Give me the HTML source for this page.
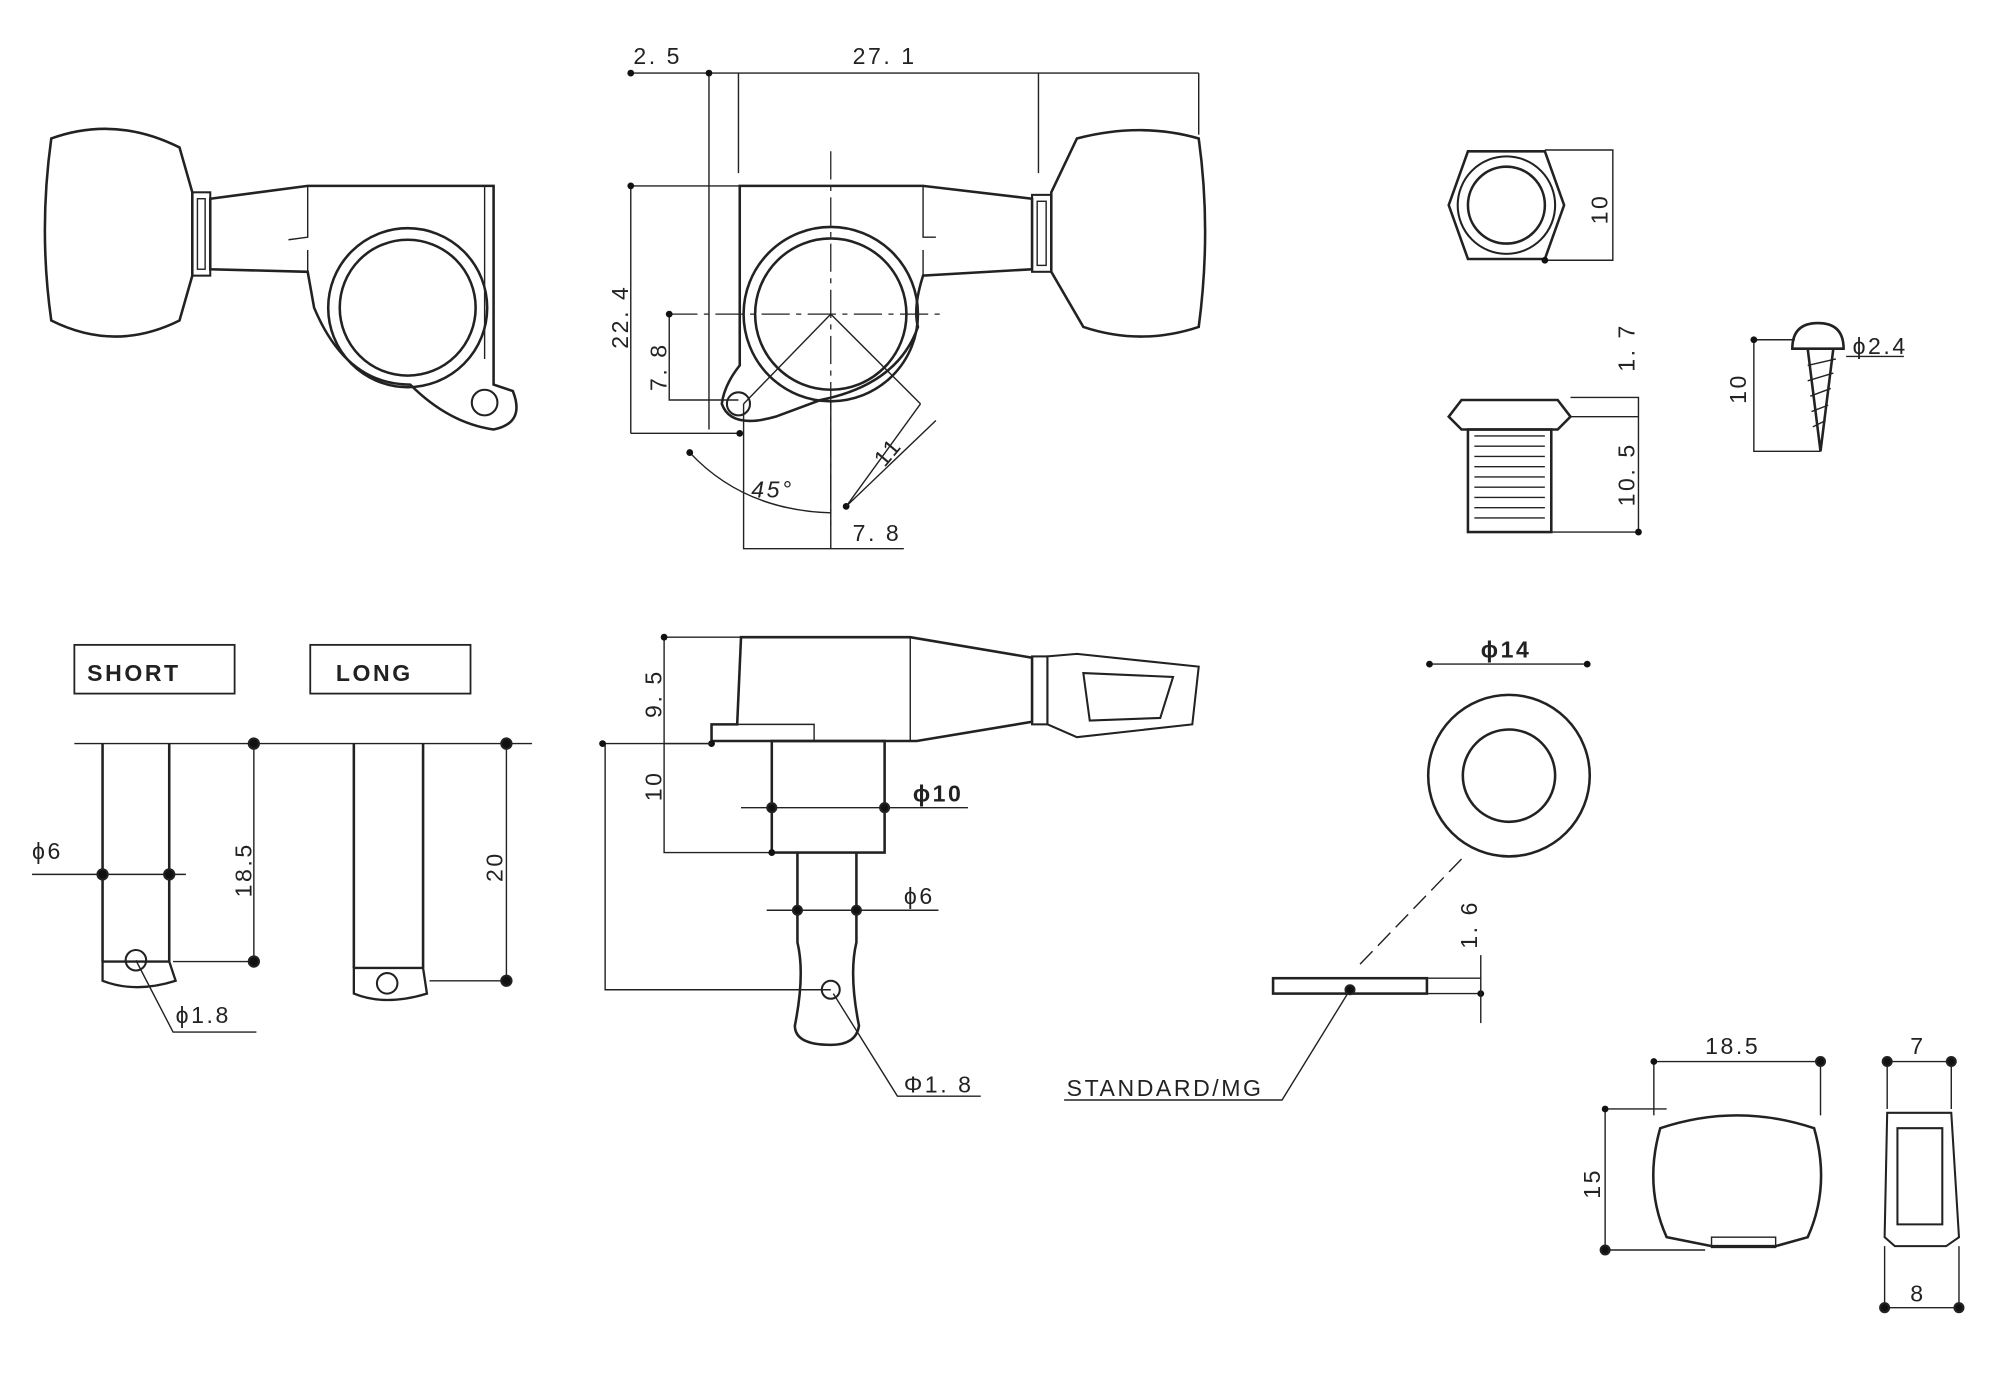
<!DOCTYPE html>
<html><head><meta charset="utf-8"><style>html,body{margin:0;padding:0;background:#fff}svg{display:block}</style></head><body>
<svg width="2000" height="1400" viewBox="0 0 1560 1092" xmlns="http://www.w3.org/2000/svg" font-family="Liberation Sans, sans-serif" fill="none" stroke="#222" stroke-width="1.6">
<defs><marker id="d" viewBox="0 0 10 10" refX="5" refY="5" markerWidth="6" markerHeight="6"><circle cx="5" cy="5" r="4" fill="#111" stroke="none"/></marker></defs>
<style>text{fill:#222;stroke:none;font-size:18px;letter-spacing:2px}.t{stroke-width:1.1}.c{stroke-dasharray:22 5 4 5;stroke-width:1}</style>
<!-- top-left tuner -->
<path d="M40 108 Q30 180 40 250 Q90 275 140 250 L150 215 L150 150 L140 115 Q90 90 40 108Z" stroke-width="2"/>
<rect x="150" y="150" width="14" height="65"/><rect x="154" y="155" width="6" height="55" class="t"/>
<path d="M164 155 L240 145 L385 145 L385 300 L400 305 Q410 330 385 335 Q350 330 320 300 Q270 300 245 240 L240 212 L164 210 Z" stroke-width="2"/>
<circle cx="318" cy="240" r="62" stroke-width="2"/><circle cx="318" cy="240" r="53" stroke-width="2"/>
<circle cx="378" cy="314" r="10"/>
<path d="M240 145 V185 L225 187 M240 212 V195" class="t"/><path d="M378 145 V280" class="t"/>
<!-- top-middle tuner -->
<path d="M577 145 L720 145 L805 155 L805 210 L720 215 Q712 240 716 255 Q700 300 640 312 L605 325 Q570 335 563 315 Q565 300 577 285 Z" stroke-width="2"/>
<circle cx="648" cy="245" r="68" stroke-width="2"/><circle cx="648" cy="245" r="59" stroke-width="2"/>
<circle cx="576" cy="315" r="9"/><path d="M720 145 V185 L730 185 M720 215 V195" class="t"/>
<rect x="805" y="152" width="15" height="60"/><rect x="809" y="157" width="7" height="50" class="t"/>
<path d="M820 150 L840 108 Q890 95 935 108 Q945 180 935 255 Q890 270 845 255 L820 212 Z" stroke-width="2"/>
<path d="M648 118 V410 M522 245 H738" class="c"/>
<path d="M648 245 L580 315 M648 245 L718 315" class="t"/>
<path d="M492 57 H935" class="t" marker-start="url(#d)"/><path d="M553 57 V335 M576 57 V135 M810 57 V135 M935 57 V105" class="t" marker-start="url(#d)"/>
<text x="494" y="50">2. 5</text><text x="665" y="50">27. 1</text>
<path d="M492 145 V338 M492 145 H577 M492 338 H577" class="t" marker-start="url(#d)" marker-end="url(#d)"/>
<text transform="translate(490 272) rotate(-90)">22. 4</text>
<path d="M522 245 V312 H576" class="t" marker-start="url(#d)"/><text transform="translate(520 305) rotate(-90)">7. 8</text>
<path d="M580 315 V428 H705 M648 312 V428 M730 328 L660 395" class="t" marker-end="url(#d)"/><text x="665" y="422">7. 8</text>
<path d="M660 395 L718 315" class="t"/><text transform="translate(690 365) rotate(-50)">11</text>
<path d="M538 353 Q580 398 648 400" class="t" marker-start="url(#d)"/><text x="586" y="388" font-style="italic" font-size="16">45°</text>
<!-- hex nut -->
<path d="M1145 118 H1205 L1220 160 L1205 202 H1145 L1130 160 Z" stroke-width="2"/>
<circle cx="1175" cy="160" r="38"/><circle cx="1175" cy="160" r="30" stroke-width="2"/>
<path d="M1205 117 H1258 V203 H1205" class="t" marker-end="url(#d)"/><text transform="translate(1254 175) rotate(-90)">10</text>
<!-- bushing -->
<path d="M1130 325 L1140 312 H1215 L1225 325 L1215 335 H1140 Z" stroke-width="2"/>
<rect x="1145" y="335" width="65" height="80" stroke-width="2"/>
<path d="M1150 340 H1205 M1150 348 H1205 M1150 356 H1205 M1150 364 H1205 M1150 372 H1205 M1150 380 H1205 M1150 388 H1205 M1150 396 H1205 M1150 404 H1205" class="t"/>
<path d="M1225 310 H1278 V415 M1225 325 H1278 M1210 415 H1278" class="t" marker-end="url(#d)"/>
<text transform="translate(1275 290) rotate(-90)">1. 7</text><text transform="translate(1275 395) rotate(-90)">10. 5</text>
<!-- screw -->
<path d="M1398 272 Q1398 252 1418 252 Q1438 252 1438 272 Z M1410 272 L1430 272 L1420 352 Z" stroke-width="2"/>
<path d="M1410 285 L1432 280 M1410 297 L1430 291 M1412 309 L1428 303 M1413 321 L1426 316 M1414 333 L1424 328" class="t"/>
<path d="M1368 265 V352 H1420 M1368 265 H1400 M1440 278 H1485" class="t" marker-start="url(#d)"/>
<text transform="translate(1362 315) rotate(-90)">10</text><text x="1445" y="276">ϕ2.4</text>
<!-- SHORT / LONG -->
<rect x="58" y="503" width="125" height="38" stroke-width="1.4"/><text x="68" y="531" font-size="22" font-weight="bold">SHORT</text>
<rect x="242" y="503" width="125" height="38" stroke-width="1.4"/><text x="262" y="531" font-size="22" font-weight="bold">LONG</text>
<path d="M58 580 H415" class="t"/>
<path d="M80 580 V750 M132 580 V750 M276 580 V755 M330 580 V755" stroke-width="2"/>
<path d="M80 750 H132 L137 765 Q106 775 80 765 Z M276 755 H330 L333 775 Q300 785 276 775 Z" stroke-width="1.8"/>
<circle cx="106" cy="749" r="8"/><circle cx="302" cy="767" r="8"/>
<path d="M135 750 H198 V580" class="t"/><path d="M335 765 H395 V580" class="t"/>
<circle cx="198" cy="580" r="4" fill="#111"/><circle cx="198" cy="750" r="4" fill="#111"/><circle cx="395" cy="580" r="4" fill="#111"/><circle cx="395" cy="765" r="4" fill="#111"/>
<text transform="translate(196 700) rotate(-90)" font-size="30" letter-spacing="0">18.5</text>
<text transform="translate(392 688) rotate(-90)" font-size="30" letter-spacing="0">20</text>
<path d="M25 682 H145" class="t"/><circle cx="80" cy="682" r="4" fill="#111"/><circle cx="132" cy="682" r="4" fill="#111"/><text x="25" y="670" font-size="28" letter-spacing="0">ϕ6</text>
<path d="M106 749 L135 805 H200" class="t"/><text x="137" y="798" font-size="28" letter-spacing="0">ϕ1.8</text>
<!-- middle bottom tuner side -->
<path d="M578 497 H710 L805 513 V563 L715 578 H555 V565 H575 Z" stroke-width="2"/>
<path d="M575 565 H635 V578" class="t"/><path d="M710 497 V578" class="t"/>
<rect x="805" y="512" width="12" height="53"/><path d="M817 512 L840 510 L935 520 L930 565 L840 575 L817 565 Z M845 525 L915 528 L905 560 L850 562 Z" stroke-width="1.6"/>
<rect x="602" y="578" width="88" height="87" stroke-width="2"/>
<path d="M622 665 V735 Q628 760 620 800 Q620 815 648 815 Q668 815 670 800 Q662 760 668 735 V665" stroke-width="2"/>
<circle cx="648" cy="772" r="7"/>
<path d="M518 497 H578 M518 497 V580 H555" class="t" marker-start="url(#d)" marker-end="url(#d)"/>
<text transform="translate(516 560) rotate(-90)">9. 5</text>
<path d="M518 580 V665 H602" class="t" marker-end="url(#d)"/><text transform="translate(516 625) rotate(-90)">10</text>
<path d="M470 580 H555 M472 580 V772 H648" class="t" marker-start="url(#d)"/>
<path d="M578 630 H755" class="t"/><circle cx="602" cy="630" r="3.5" fill="#111"/><circle cx="690" cy="630" r="3.5" fill="#111"/><text x="712" y="625" font-weight="bold">ϕ10</text>
<path d="M598 710 H732" class="t"/><circle cx="622" cy="710" r="3.5" fill="#111"/><circle cx="668" cy="710" r="3.5" fill="#111"/><text x="705" y="705">ϕ6</text>
<path d="M650 775 L700 855 H765" class="t"/><text x="705" y="852">Φ1. 8</text>
<!-- washer -->
<circle cx="1177" cy="605" r="63" stroke-width="2"/><circle cx="1177" cy="605" r="36" stroke-width="2"/>
<path d="M1115 518 H1238" class="t" marker-start="url(#d)" marker-end="url(#d)"/><text x="1155" y="513" font-weight="bold">ϕ14</text>
<path d="M1140 670 L1058 755" class="t" stroke-dasharray="14 6"/>
<rect x="993" y="763" width="120" height="12" stroke-width="2"/>
<path d="M1113 763 H1155 M1113 775 H1155" class="t" marker-end="url(#d)"/><path d="M1155 745 V798" class="t"/>
<text transform="translate(1152 740) rotate(-90)">1. 6</text>
<path d="M1053 772 L1000 858 H830" class="t"/><circle cx="1053" cy="772" r="3.5" fill="#111"/><text x="832" y="855">STANDARD/MG</text>
<!-- knob front -->
<path d="M1295 880 Q1355 860 1415 880 Q1428 925 1410 965 L1385 972 H1335 L1300 965 Q1282 925 1295 880Z" stroke-width="2"/>
<rect x="1335" y="965" width="50" height="8" class="t"/>
<path d="M1290 828 H1420 M1290 828 V870 M1420 828 V870" class="t" marker-start="url(#d)"/><circle cx="1420" cy="828" r="3.5" fill="#111"/>
<text x="1330" y="822">18.5</text>
<path d="M1252 865 H1300 M1252 865 V975 H1330" class="t" marker-start="url(#d)"/><circle cx="1252" cy="975" r="3.5" fill="#111"/>
<text transform="translate(1248 935) rotate(-90)">15</text>
<!-- knob side -->
<path d="M1472 868 H1522 L1528 965 L1518 972 H1478 L1470 965 Z M1480 880 H1515 L1515 955 H1480 Z" stroke-width="1.6"/>
<path d="M1468 828 H1525 M1472 828 V865 M1522 828 V865 M1468 1020 H1530 M1470 972 V1020 M1528 972 V1020" class="t"/>
<circle cx="1472" cy="828" r="3.5" fill="#111"/><circle cx="1522" cy="828" r="3.5" fill="#111"/><circle cx="1470" cy="1020" r="3.5" fill="#111"/><circle cx="1528" cy="1020" r="3.5" fill="#111"/>
<text x="1490" y="822">7</text><text x="1490" y="1015">8</text>
</svg>
</body></html>
